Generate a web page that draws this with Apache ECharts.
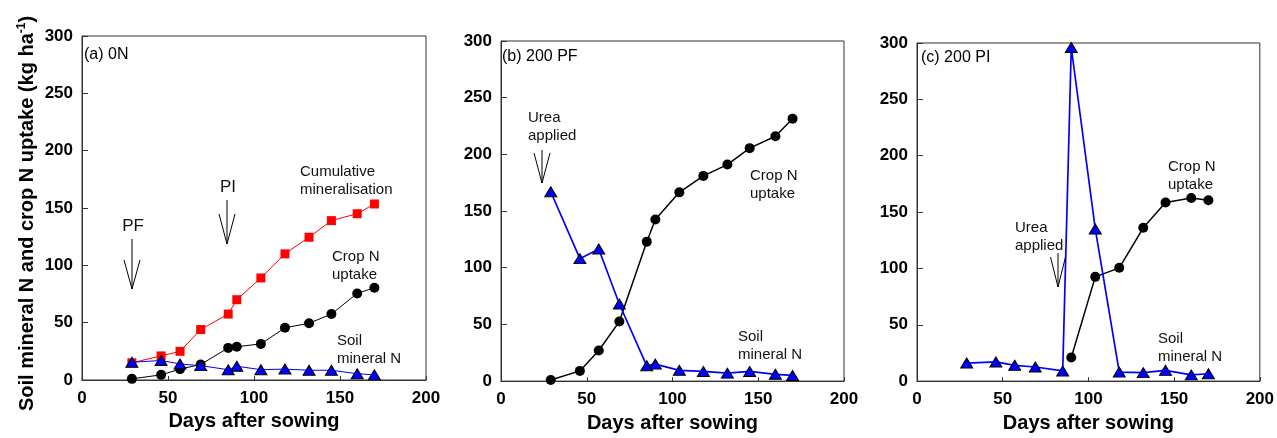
<!DOCTYPE html>
<html>
<head>
<meta charset="utf-8">
<script src="https://cdn.jsdelivr.net/npm/echarts@6/dist/echarts.min.js"></script>
<style>
html,body{margin:0;padding:0;background:#fff;}
#chart{width:1277px;height:438px;}
</style>
</head>
<body>
<div id="chart"></div>
<script>
// ---- data ----
const days = [29, 46, 57, 69, 85, 90, 104, 118, 132, 145, 160, 170];
// Panel (a) 0N
const cumMinA = [15, 21, 25, 44, 57.5, 70, 89, 110, 124.5, 139, 145, 153.5];
const cropA   = [1, 4.5, 9.5, 13.5, 28, 29, 31.5, 45.5, 49.5, 57.5, 75.5, 80.5];
const soilA   = [15.5, 17, 14, 12.5, 9, 12, 9, 9.5, 8.5, 8.5, 5.5, 4.5];
// Panel (b) 200 PF
const cropB = [1, 9, 27, 52.5, 123, 142.5, 166.5, 181, 191, 205.5, 216, 231.5];
const soilB = [167, 108, 116.5, 68, 13.5, 15, 9.5, 8.5, 7, 8.5, 6, 5];
// Panel (c) 200 PI
const soilC = [16, 17, 14, 12.5, 9, 296, 135, 8, 7.5, 9.5, 5.5, 6.5];
const cropCDays = [90, 104, 118, 132, 145, 160, 170];
const cropC = [21, 92.5, 100.5, 136, 158.5, 162.5, 160.5];
// axis ticks
const xTicks = {min: 0, max: 200, interval: 50};
const yTicks = {min: 0, max: 300, interval: 50};
const panelTitles = ['(a) 0N', '(b) 200 PF', '(c) 200 PI'];

const pairs = (xs, ys) => xs.map((x, i) => [x, ys[i]]);

const FONT = 'Liberation Sans, Arial, sans-serif';
const grids = [
  {left: 82, top: 36, width: 344, height: 344},
  {left: 501, top: 41, width: 343, height: 343},
  {left: 917, top: 43, width: 344, height: 344}
];

const xAxes = grids.map((g, i) => ({
  type: 'value', gridIndex: i, min: xTicks.min, max: xTicks.max, interval: xTicks.interval,
  name: 'Days after sowing', nameLocation: 'middle', nameGap: 30,
  nameTextStyle: {fontFamily: FONT, fontWeight: 'bold', fontSize: 20, color: '#000'},
  axisLine: {show: true, onZero: false, lineStyle: {color: '#333', width: 1}},
  axisTick: {show: true, inside: true, length: 4, lineStyle: {color: '#333'}},
  axisLabel: {fontFamily: FONT, fontWeight: 'bold', fontSize: 17, color: '#000', margin: 10},
  splitLine: {show: false}
}));

const yAxes = grids.map((g, i) => ({
  type: 'value', gridIndex: i, min: yTicks.min, max: yTicks.max, interval: yTicks.interval,
  name: i === 0 ? '{a|Soil mineral N and crop N uptake (kg ha}{s|-1}{a|)}' : '',
  nameLocation: 'middle', nameGap: 44, nameRotate: 90,
  nameTextStyle: {
    padding: [0, 11, 0, 0],
    rich: {
      a: {fontFamily: FONT, fontWeight: 'bold', fontSize: 20, color: '#000', lineHeight: 22},
      s: {fontFamily: FONT, fontWeight: 'bold', fontSize: 12, color: '#000', lineHeight: 22, verticalAlign: 'top', padding: [0, 0, 10, 0]}
    }
  },
  axisLine: {show: true, lineStyle: {color: '#333', width: 1}},
  axisTick: {show: true, inside: true, length: 6, lineStyle: {color: '#333'}},
  axisLabel: {fontFamily: FONT, fontWeight: 'bold', fontSize: 17, color: '#000', margin: 9},
  splitLine: {show: false}
}));

function lineSeries(idx, data, color, symbol, size, width, border) {
  return {
    type: 'line', xAxisIndex: idx, yAxisIndex: idx, data: data,
    symbol: symbol, symbolSize: size, showSymbol: true,
    lineStyle: {color: color, width: width},
    itemStyle: {color: symbol === 'circle' ? '#000' : color, borderColor: border ? '#000' : color, borderWidth: border ? 1 : 0},
    animation: false, z: symbol === 'triangle' ? 4 : 3
  };
}

const series = [
  lineSeries(0, pairs(days, cumMinA), '#ff0000', 'rect', 9, 1, false),
  lineSeries(0, pairs(days, cropA), '#000000', 'circle', 10, 1, false),
  lineSeries(0, pairs(days, soilA), '#0000ff', 'triangle', [12, 10], 1, true),
  lineSeries(1, pairs(days, cropB), '#000000', 'circle', 10, 1.5, false),
  lineSeries(1, pairs(days, soilB), '#0000ff', 'triangle', [12, 10], 1.7, true),
  lineSeries(2, pairs(cropCDays, cropC), '#000000', 'circle', 10, 1.5, false),
  lineSeries(2, pairs(days, soilC), '#0000ff', 'triangle', [12, 10], 1.7, true)
];

function txt(x, y, text, size, opts) {
  opts = opts || {};
  return {
    type: 'text', x: x, y: y, z: 10,
    style: {
      text: text, font: (opts.weight || 'normal') + ' ' + size + 'px ' + FONT,
      fill: opts.fill || '#111', lineHeight: opts.lh || 18,
      align: opts.align || 'left', verticalAlign: opts.va || 'top'
    }
  };
}
function arrow(x, y1, y2, hx, hy) {
  return [
    {type: 'line', z: 10, shape: {x1: x, y1: y1, x2: x, y2: y2}, style: {stroke: '#000', lineWidth: 1}},
    {type: 'polyline', z: 10, shape: {points: [[x - hx, y2 - hy], [x, y2], [x + hx, y2 - hy]]}, style: {stroke: '#000', lineWidth: 1, fill: null}}
  ];
}

const graphics = [
  txt(84, 55, panelTitles[0], 16, {va: 'middle', fill: '#000'}),
  txt(502, 57, panelTitles[1], 16, {va: 'middle', fill: '#000'}),
  txt(921, 58, panelTitles[2], 16, {va: 'middle', fill: '#000'}),
  // panel a
  txt(300, 163, 'Cumulative\nmineralisation', 15),
  txt(332, 248, 'Crop N\nuptake', 15),
  txt(337, 332, 'Soil\nmineral N', 15),
  txt(133, 226, 'PF', 17, {align: 'center', va: 'middle'}),
  txt(228, 187, 'PI', 17, {align: 'center', va: 'middle'}),
  ...arrow(132, 239, 289, 8, 29),
  ...arrow(227, 200, 244, 8, 30),
  // panel b
  txt(528, 109, 'Urea\napplied', 15),
  txt(750, 167, 'Crop N\nuptake', 15),
  txt(738, 328, 'Soil\nmineral N', 15),
  ...arrow(542, 150, 183, 8, 30),
  // panel c
  txt(1015, 219, 'Urea\napplied', 15),
  txt(1168, 158, 'Crop N\nuptake', 15),
  txt(1158, 330, 'Soil\nmineral N', 15),
  ...arrow(1058, 253, 287, 7.5, 30)
];

const chart = echarts.init(document.getElementById('chart'), null, {renderer: 'canvas'});
chart.setOption({
  backgroundColor: '#fff',
  animation: false,
  grid: grids.map(g => Object.assign({show: true, borderColor: '#333', borderWidth: 1, backgroundColor: 'transparent'}, g)),
  xAxis: xAxes,
  yAxis: yAxes,
  series: series,
  graphic: graphics
});
</script>
</body>
</html>
